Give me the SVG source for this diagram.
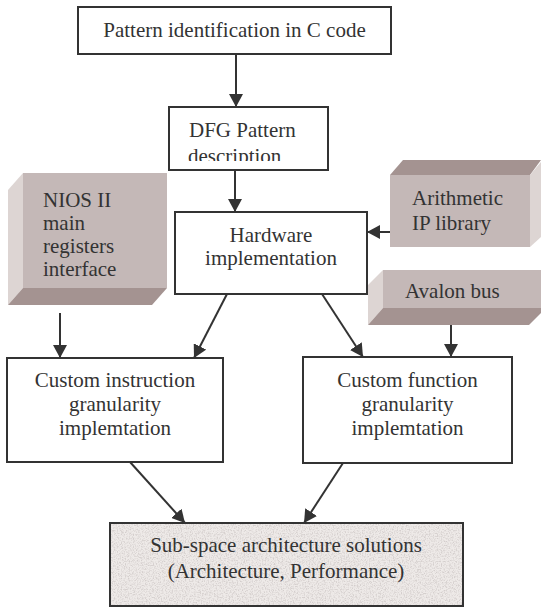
<svg xmlns="http://www.w3.org/2000/svg" width="541" height="608" viewBox="0 0 541 608">
<defs>
<style>
.box{fill:#fff;stroke:#333;stroke-width:2}
.t{font-family:"Liberation Serif","Times New Roman",serif;font-size:21px;fill:#333}
.c{text-anchor:middle}
.front{fill:#c4b8b7}
.light{fill:#ddd5d3}
.dark{fill:#a49391}
.conn{stroke:#333;stroke-width:2;fill:none;marker-end:url(#ah)}
</style>
<marker id="ah" markerUnits="userSpaceOnUse" markerWidth="14" markerHeight="14" refX="13" refY="7" orient="auto">
<path d="M0,0 L13,7 L0,14 z" fill="#333"/>
</marker>
<clipPath id="dfgclip"><rect x="170" y="108" width="157" height="53"/></clipPath>
<filter id="tex" x="0" y="0" width="100%" height="100%">
<feTurbulence type="fractalNoise" baseFrequency="0.75" numOctaves="2" seed="4" result="n"/>
<feColorMatrix in="n" type="matrix" values="0 0 0 0 0.66  0 0 0 0 0.62  0 0 0 0 0.61  3.0 0 0 0 -1.3"/>
</filter>
</defs>
<g id="n1">
<rect class="box" x="78" y="7" width="313" height="47"/>
<text class="t c" x="234.5" y="37">Pattern identification in C code</text>
</g>
<g id="n2">
<rect class="box" x="169" y="107" width="159" height="63"/>
<g clip-path="url(#dfgclip)">
<text class="t" x="189" y="137">DFG Pattern</text>
<text class="t" x="188" y="163">description</text>
</g>
</g>
<g id="n3">
<rect class="box" x="175" y="212" width="192" height="82"/>
<text class="t c" x="271" y="242">Hardware</text>
<text class="t c" x="271" y="265">implementation</text>
</g>
<g id="n4">
<polygon class="light" points="8,190 23,173 23,288 8,305"/>
<polygon class="dark" points="23,288 167,288 152,305 8,305"/>
<rect class="front" x="23" y="173" width="144" height="115"/>
<text class="t" x="43" y="207">NIOS II</text>
<text class="t" x="43" y="230">main</text>
<text class="t" x="43" y="253">registers</text>
<text class="t" x="43" y="276">interface</text>
</g>
<g id="n5">
<polygon class="dark" points="390,175 403,160 541,160 530,175"/>
<polygon class="light" points="530,175 541,162 541,237 530,247"/>
<rect class="front" x="390" y="175" width="140" height="72"/>
<text class="t" x="412" y="205">Arithmetic</text>
<text class="t" x="412" y="230">IP library</text>
</g>
<g id="n6">
<polygon class="light" points="368,285 383,270 383,308 368,325"/>
<polygon class="dark" points="368,325 383,308 541,308 541,313 529,325"/>
<rect class="front" x="383" y="270" width="158" height="38"/>
<text class="t" x="405" y="298">Avalon bus</text>
</g>
<g id="n7">
<rect class="box" x="7" y="358" width="216" height="104"/>
<text class="t c" x="115" y="387">Custom instruction</text>
<text class="t c" x="115" y="411">granularity</text>
<text class="t c" x="115" y="435">implemtation</text>
</g>
<g id="n8">
<rect class="box" x="303" y="357" width="209" height="106"/>
<text class="t c" x="407.5" y="387">Custom function</text>
<text class="t c" x="407.5" y="411">granularity</text>
<text class="t c" x="407.5" y="435">implemtation</text>
</g>
<g id="n9">
<rect x="110" y="523" width="353" height="83" fill="#eeeae8"/>
<rect x="110" y="523" width="353" height="83" fill="#fff" filter="url(#tex)"/>
<rect x="110" y="523" width="353" height="83" fill="none" stroke="#333" stroke-width="2"/>
<text class="t c" x="286" y="552">Sub-space architecture solutions</text>
<text class="t c" x="286" y="578">(Architecture, Performance)</text>
</g>
<g id="connectors">
<line class="conn" x1="236" y1="54" x2="236" y2="107"/>
<line class="conn" x1="235" y1="170" x2="235" y2="212"/>
<line class="conn" x1="390" y1="232" x2="367" y2="232"/>
<line class="conn" x1="227" y1="294" x2="194" y2="358"/>
<line class="conn" x1="322" y1="294" x2="363" y2="357"/>
<line class="conn" x1="60" y1="313" x2="60" y2="358"/>
<line class="conn" x1="451" y1="325" x2="451" y2="357"/>
<line class="conn" x1="130" y1="462" x2="185" y2="523"/>
<line class="conn" x1="343" y1="463" x2="304" y2="523"/>
</g>
</svg>
